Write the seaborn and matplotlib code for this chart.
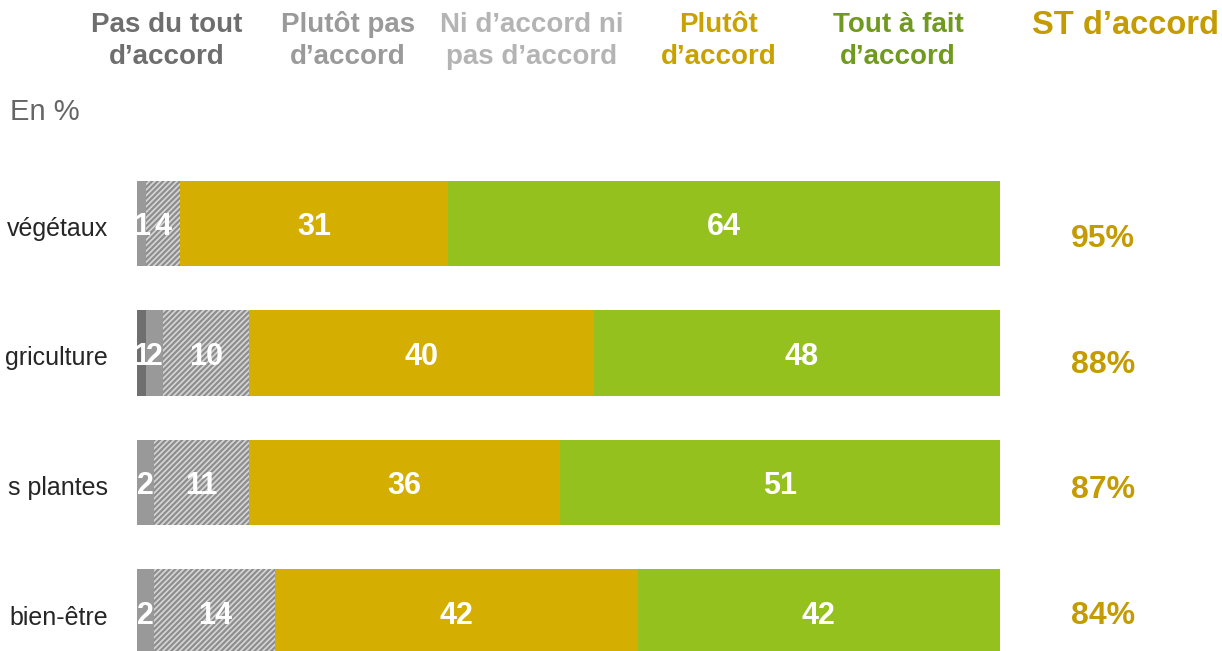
import numpy as np
import pandas as pd
import matplotlib
matplotlib.use("Agg")
import matplotlib.pyplot as plt
import matplotlib.transforms as mtransforms
import seaborn as sns

# ---- data ----
categories = ["végétaux", "griculture", "s plantes", "bien-être"]
pas_du_tout = [0, 1, 0, 0]
plutot_pas = [1, 2, 2, 2]
ni_ni = [4, 10, 11, 14]
plutot_accord = [31, 40, 36, 42]
tout_a_fait = [64, 48, 51, 42]
st_accord = [95, 88, 87, 84]
header_labels = ["Pas du tout\nd’accord", "Plutôt pas\nd’accord",
                 "Ni d’accord ni\npas d’accord", "Plutôt\nd’accord",
                 "Tout à fait\nd’accord"]
st_header = "ST d’accord"
unit_label = "En %"

sns.set_theme(style="white")
plt.rcParams["font.family"] = ["Liberation Sans", "DejaVu Sans"]
plt.rcParams["hatch.linewidth"] = 1.6

W, H = 1222, 651
fig = plt.figure(figsize=(W / 100, H / 100), dpi=100)
ax = fig.add_axes([137 / W, 0, 863 / W, 491 / H])

series = [pas_du_tout, plutot_pas, ni_ni, plutot_accord, tout_a_fait]
bar_colors = ["#6f6f6f", "#999999", "#d6d6d6", "#d4ae00", "#95c11f"]
header_colors = ["#6e6e6e", "#9a9a9a", "#b4b4b4", "#c9a200", "#6f9a1f"]

cums = np.cumsum(np.array(series), axis=0)
# draw from the longest cumulative down so shorter ones overlay
for i in range(len(series) - 1, -1, -1):
    df = pd.DataFrame({"cat": categories, "val": cums[i]})
    sns.barplot(data=df, x="val", y="cat", orient="h", color=bar_colors[i],
                saturation=1, width=0.66, ax=ax, linewidth=0)
    if i == 2:
        for p in ax.containers[-1]:
            p.set_hatch("//////")
            p.set_edgecolor("#8e8e8e")
            p.set_linewidth(0)

ax.set_xlim(0, 100)
ax.set_ylim(3.301, -0.49)
ax.set_xlabel("")
ax.set_ylabel("")
ax.set_xticks([])
for s in ax.spines.values():
    s.set_visible(False)
ax.tick_params(axis="y", length=0, pad=21, labelsize=18, labelcolor="#262626")
shift = mtransforms.ScaledTranslation(0, -3 / 100, fig.dpi_scale_trans)
for t in ax.get_yticklabels():
    t.set_transform(t.get_transform() + shift)

# value labels (baseline slightly below bar centre)
for r in range(len(categories)):
    left = 0
    for i, s in enumerate(series):
        v = s[r]
        if v > 0:
            ax.text(left + v / 2, r + 0.092, f"{v}", ha="center", va="baseline",
                    color="white", fontsize=22, fontweight="bold")
        left += v

# ST d'accord column
for r, v in enumerate(st_accord):
    fig.text(1103 / W, 1 - (247 + r * 125.7) / H, f"{v}%", ha="center",
             va="baseline", color="#c49b00", fontsize=23, fontweight="bold")

# headers
header_x = [167, 348, 532, 719, 898]
for x, lab, c in zip(header_x, header_labels, header_colors):
    fig.text(x / W, 1 - 41 / H, lab, ha="center", va="center", color=c,
             fontsize=20, fontweight="bold", linespacing=1.3)
fig.text(1126 / W, 1 - 26 / H, st_header, ha="center", va="center",
         color="#c49b00", fontsize=23.5, fontweight="bold")
fig.text(10 / W, 1 - 112 / H, unit_label, ha="left", va="center",
         color="#666666", fontsize=21)

fig.savefig("out.png", dpi=100)
